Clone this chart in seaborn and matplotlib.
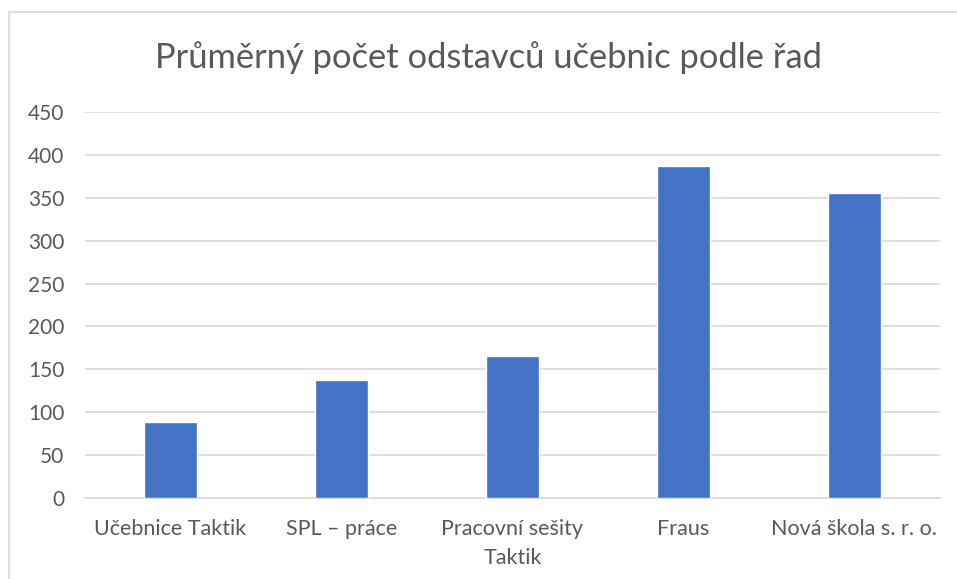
import matplotlib
matplotlib.use('Agg')
import matplotlib.pyplot as plt
import seaborn as sns
import pandas as pd
from matplotlib.patches import Rectangle

# data
rady = ['Učebnice Taktik', 'SPL – práce', 'Pracovní sešity\nTaktik', 'Fraus', 'Nová škola s. r. o.']
odstavce = [88, 137, 166, 387, 355]
yticks = [0, 50, 100, 150, 200, 250, 300, 350, 400, 450]

df = pd.DataFrame({'rada': rady, 'odstavce': odstavce})

sns.set_theme(style='white')
plt.rcParams['font.family'] = ['Lato', 'DejaVu Sans']

fig = plt.figure(figsize=(9.57, 5.79), dpi=100)
ax = fig.add_axes([0.0888, 0.140, 0.8932, 0.6666])

sns.barplot(data=df, x='rada', y='odstavce', color='#4472C4', width=0.31,
            saturation=1, ax=ax, zorder=3)

ax.set_ylim(0, 450)
ax.set_yticks(yticks)
ax.set_xlim(-0.5, len(rady) - 0.5)
ax.grid(axis='y', color='#d9d9d9', linewidth=1.2, zorder=0)
for s in ['top', 'right', 'left']:
    ax.spines[s].set_visible(False)
ax.spines['bottom'].set_color('#d9d9d9')
ax.spines['bottom'].set_linewidth(1.2)
ax.tick_params(axis='x', length=0, labelsize=15.5, colors='#595959', pad=15)
ax.tick_params(axis='y', length=0, labelsize=15, colors='#595959', pad=15)
ax.set_xlabel('')
ax.set_ylabel('')
for lbl in ax.get_xticklabels():
    lbl.set_linespacing(1.55)

fig.text(0.51, 0.90, 'Průměrný počet odstavců učebnic podle řad', ha='center',
         va='center', fontsize=24.8, color='#595959')

# chart frame
fig.patches.append(Rectangle((0.009, -0.01), 0.995, 0.99, transform=fig.transFigure,
                             fill=False, edgecolor='#d9d9d9', linewidth=1.2))

fig.savefig('out.png', dpi=100)
